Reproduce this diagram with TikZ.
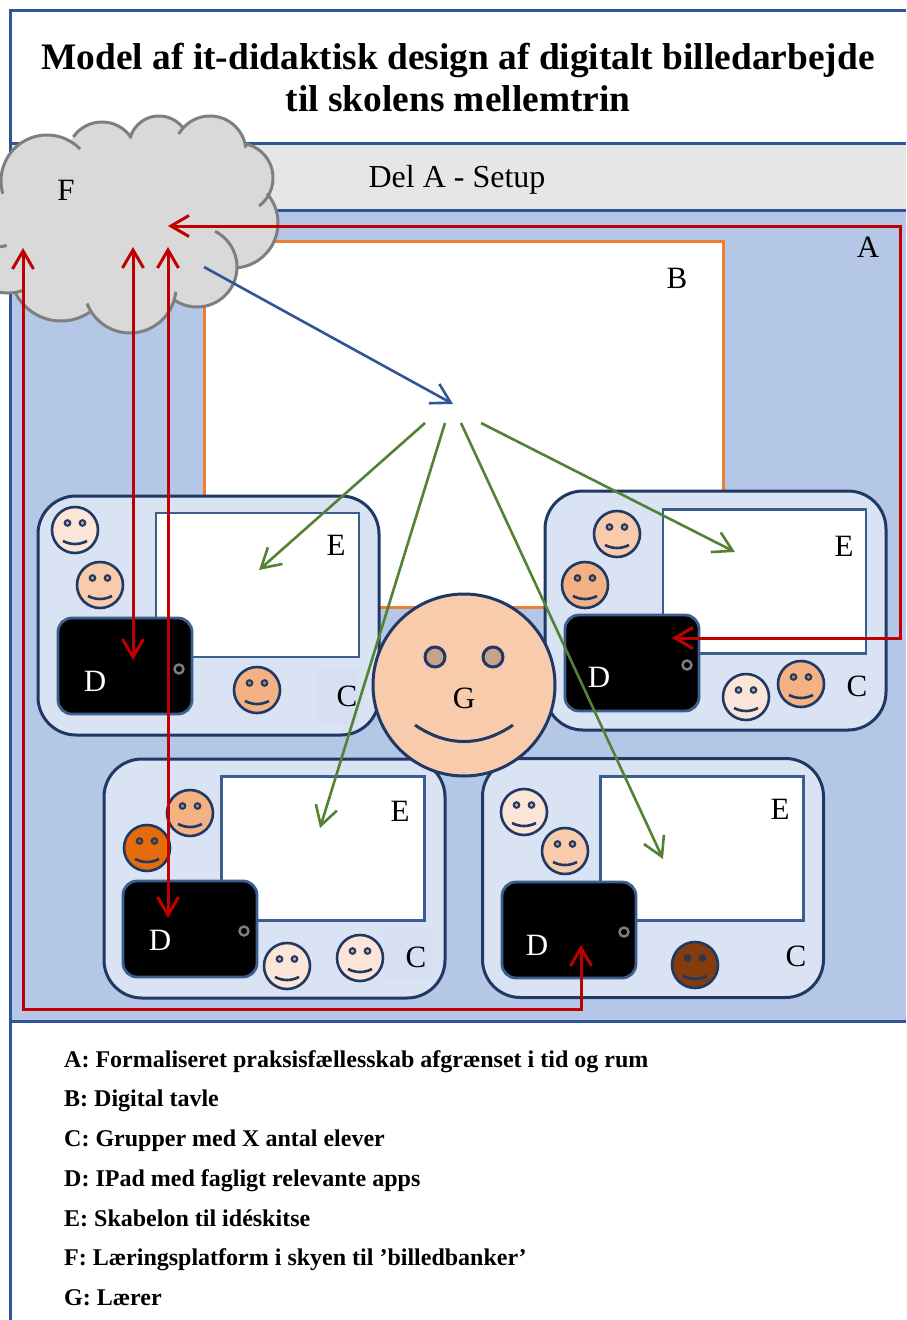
\documentclass[tikz,border=0pt]{standalone}
\usepackage{fontspec}
\setmainfont{Liberation Serif}
\usetikzlibrary{arrows.meta}
\definecolor{frameblue}{HTML}{2F5597}
\definecolor{bandgray}{HTML}{E7E6E6}
\definecolor{panelblue}{HTML}{B4C7E7}
\definecolor{grpfill}{HTML}{DAE3F3}
\definecolor{patchfill}{HTML}{D7E0F3}
\definecolor{navy}{HTML}{1F3864}
\definecolor{ebord}{HTML}{3A5F8F}
\definecolor{orangeb}{HTML}{ED7D31}
\definecolor{redl}{HTML}{C00000}
\definecolor{greenl}{HTML}{548235}
\definecolor{cloudf}{HTML}{D9D9D9}
\definecolor{cloudl}{HTML}{7F7F7F}
\definecolor{pale}{HTML}{FBE5D6}
\definecolor{mid}{HTML}{F8CBAD}
\definecolor{peach}{HTML}{F4B183}
\definecolor{dorange}{HTML}{E46C0A}
\definecolor{brownf}{HTML}{843C0C}
\tikzset{
  framel/.style={draw=frameblue,line width=3pt},
  grp/.style={draw=navy,fill=grpfill,line width=3pt,rounded corners=38pt,minimum width=341pt,minimum height=239pt,inner sep=0pt,outer sep=0pt},
  sheet/.style={draw=ebord,fill=white,line width=2.8pt,minimum width=203pt,minimum height=144pt,inner sep=0pt,outer sep=0pt},
  tablet/.style={draw=ebord,fill=black,line width=2.8pt,rounded corners=14pt,minimum width=134pt,minimum height=96pt,inner sep=0pt,outer sep=0pt},
  btn/.style={circle,draw=cloudl,line width=2.4pt,minimum size=9pt,inner sep=0pt},
  lbl/.style={font=\fontsize{31}{36}\selectfont,inner sep=0pt,text=black},
  legend/.style={font=\fontsize{24}{28}\selectfont\bfseries,anchor=base west,inner sep=0pt},
  patch/.style={fill=patchfill,inner sep=0pt},
  facec/.style={circle,draw=navy,line width=2.6pt,minimum size=46pt,inner sep=0pt},
  redar/.style={draw=redl,line width=3pt,{Straight Barb[length=18pt,width=21pt]}-{Straight Barb[length=18pt,width=21pt]}},
  bluear/.style={draw=frameblue,line width=2.6pt,-{Straight Barb[length=19pt,width=22pt]}},
  greenar/.style={draw=greenl,line width=2.6pt,-{Straight Barb[length=19pt,width=22pt]}},
  cloudline/.style={draw=cloudl,line width=3pt}
}
\newcommand{\smiley}[4]{%
  \begin{scope}[shift={(#2,#3)}]
    \node[facec,fill=#4] (#1) at (0,0) {};
    \draw[navy,line width=2pt,fill=#4!75!black] (-7.5,-7) circle[radius=2.8pt];
    \draw[navy,line width=2pt,fill=#4!75!black] (7.5,-7) circle[radius=2.8pt];
    \draw[navy,line width=2.6pt] (-12,11) .. controls (-4,15) and (4,15) .. (12,11);
  \end{scope}}
\newcommand{\lobe}[5]{\draw[cloudline] plot[domain=#4:#5,samples=40,variable=\t] ({#1+#3*cos(\t)},{#2+#3*sin(\t)});}
\newcommand{\lobefill}[3]{\fill[cloudf] (#1,#2) circle[radius=#3pt];}
\begin{document}
\begin{tikzpicture}[x=1pt,y=-1pt]
\useasboundingbox (0,0) rectangle (906,1320);
\clip (0,0) rectangle (906,1320);
% frame and bands
\fill[white] (0,0) rectangle (906,1320);
\fill[bandgray] (10,143) rectangle (906,210);
\fill[panelblue] (10,210) rectangle (906,1021);
\draw[framel] (906,10) -- (10,10) -- (10,1320);
\draw[framel] (10,143) -- (906,143);
\draw[framel] (10,210) -- (906,210);
\draw[framel] (10,1021) -- (906,1021);
% title
\node[font=\fontsize{37.4}{42}\selectfont\bfseries,align=center,inner sep=0pt] (title) at (458,78) {Model af it-didaktisk design af digitalt billedarbejde\\til skolens mellemtrin};
\node[lbl,font=\fontsize{32}{36}\selectfont] (band) at (457,180) {Del A - Setup};
% board
\node[draw=orangeb,fill=white,line width=3pt,minimum width=519pt,minimum height=366pt,inner sep=0pt,outer sep=0pt] (board) at (463.5,424) {};
\node[lbl] (lA) at (868,247) {A};
\node[lbl] (lB) at (677,278) {B};
% groups
\node[grp] (g1) at (208.5,615.5) {};
\node[grp] (g2) at (715.5,610.5) {};
\node[grp] (g3) at (274.5,878.5) {};
\node[grp] (g4) at (653,878) {};
% sheets
\node[sheet] (e1) at (257.5,585) {};
\node[sheet] (e2) at (764.5,581.5) {};
\node[sheet] (e3) at (323,848.5) {};
\node[sheet] (e4) at (702,848.5) {};
\node[lbl] (le1) at (336,545) {E};
\node[lbl] (le2) at (844,546) {E};
\node[lbl] (le3) at (400,811) {E};
\node[lbl] (le4) at (780,809) {E};
% tablets
\node[tablet] (d1) at (125,666) {};
\node[tablet] (d2) at (632,663) {};
\node[tablet] (d3) at (190,929) {};
\node[tablet] (d4) at (569,930) {};
\node[btn] (b1) at (179,669) {};
\node[btn] (b2) at (687,665) {};
\node[btn] (b3) at (244,931) {};
\node[btn] (b4) at (624,932) {};
\node[lbl,text=white] (ld1) at (95,681) {D};
\node[lbl,text=white] (ld2) at (599,677) {D};
\node[lbl,text=white] (ld3) at (160,940) {D};
\node[lbl,text=white] (ld4) at (537,945) {D};
% C labels
\fill[patch] (317,667) rectangle (358,725);
\fill[patch] (385,927) rectangle (432,980);
\node[lbl] (lc1) at (347,696) {C};
\node[lbl] (lc2) at (857,686) {C};
\node[lbl] (lc3) at (416,957) {C};
\node[lbl] (lc4) at (796,956) {C};
% pupils
\smiley{p1}{75}{530}{pale}
\smiley{p2}{100}{585}{mid}
\smiley{p3}{257}{690}{peach}
\smiley{p4}{617}{534}{mid}
\smiley{p5}{585}{585}{peach}
\smiley{p6}{746}{697}{pale}
\smiley{p7}{801}{684}{peach}
\smiley{p8}{190}{813}{peach}
\smiley{p9}{147}{848}{dorange}
\smiley{p10}{287}{966}{pale}
\smiley{p11}{360}{958}{pale}
\smiley{p12}{524}{812}{pale}
\smiley{p13}{565}{851}{mid}
\smiley{p14}{695}{965}{brownf}
% teacher
\node[circle,draw=navy,fill=mid,line width=3pt,minimum size=182pt,inner sep=0pt,outer sep=0pt] (teacher) at (464,685) {};
\draw[navy,line width=3pt,fill=mid!80!black] (435,657) circle[radius=10pt];
\draw[navy,line width=3pt,fill=mid!80!black] (493,657) circle[radius=10pt];
\draw[navy,line width=3pt] (415,725) .. controls (447,747) and (481,747) .. (513,725);
\node[lbl] (lG) at (464,698) {G};
% cloud
\lobefill{47}{181}{46}
\lobefill{102}{157}{35}
\lobefill{159}{146}{30}
\lobefill{210}{152}{36}
\lobefill{238}{178}{35}
\lobefill{233}{223}{45}
\lobefill{197}{267}{40}
\lobefill{130}{287}{46}
\lobefill{61}{270}{51}
\lobefill{8}{248}{45}
\fill[cloudf] (0,190) -- (30,170) -- (130,138) -- (182,130) -- (245,150) -- (260,205) -- (240,260) -- (175,295) -- (90,310) -- (20,290) -- (0,290) -- cycle;
\lobe{47}{181}{46}{164}{316}
\lobe{102}{157}{35}{215}{327}
\lobe{159}{146}{30}{195}{324}
\lobe{210}{152}{36}{210}{353}
\lobe{238}{178}{35}{281}{413}
\lobe{233}{223}{45}{-41}{84}
\lobe{197}{267}{40}{-63}{124}
\lobe{130}{287}{46}{6}{159}
\lobe{61}{270}{51}{56}{152}
\lobe{8}{248}{45}{71}{125}
\lobe{-5}{202}{45}{75}{100}
\node[lbl] (lF) at (66,190) {F};
% connector ends
\coordinate (ra1) at (168,226);
\coordinate (ra2) at (900,226);
\coordinate (ra3) at (900,638);
\coordinate (ra4) at (672,638);
\coordinate (rb1) at (133,247);
\coordinate (rb2) at (133,660);
\coordinate (rc1) at (168,247);
\coordinate (rc2) at (168,918);
\coordinate (rd1) at (23,248);
\coordinate (rd2) at (23,1009);
\coordinate (rd3) at (581,1009);
\coordinate (rd4) at (581,945);
\coordinate (bl1) at (204,267);
\coordinate (bl2) at (453,404);
\coordinate (ga1) at (425,423);
\coordinate (ga2) at (259,570);
\coordinate (gb1) at (445,423);
\coordinate (gb2) at (320,828);
\coordinate (gc1) at (461,423);
\coordinate (gc2) at (663,859);
\coordinate (gd1) at (481,423);
\coordinate (gd2) at (735,552);
\draw[redar] (ra1) -- (ra2) -- (ra3) -- (ra4);
\draw[redar] (rb1) -- (rb2);
\draw[redar] (rc1) -- (rc2);
\draw[redar] (rd1) -- (rd2) -- (rd3) -- (rd4);
\draw[bluear] (bl1) -- (bl2);
\draw[greenar] (ga1) -- (ga2);
\draw[greenar] (gb1) -- (gb2);
\draw[greenar] (gc1) -- (gc2);
\draw[greenar] (gd1) -- (gd2);
% legend
\node[legend] (k1) at (64,1067) {A: Formaliseret praksisfællesskab afgrænset i tid og rum};
\node[legend] (k2) at (64,1106) {B: Digital tavle};
\node[legend] (k3) at (64,1146) {C: Grupper med X antal elever};
\node[legend] (k4) at (64,1186) {D: IPad med fagligt relevante apps};
\node[legend] (k5) at (64,1226) {E: Skabelon til idéskitse};
\node[legend] (k6) at (64,1265) {F: Læringsplatform i skyen til ’billedbanker’};
\node[legend] (k7) at (64,1305) {G: Lærer};
\end{tikzpicture}
\end{document}
